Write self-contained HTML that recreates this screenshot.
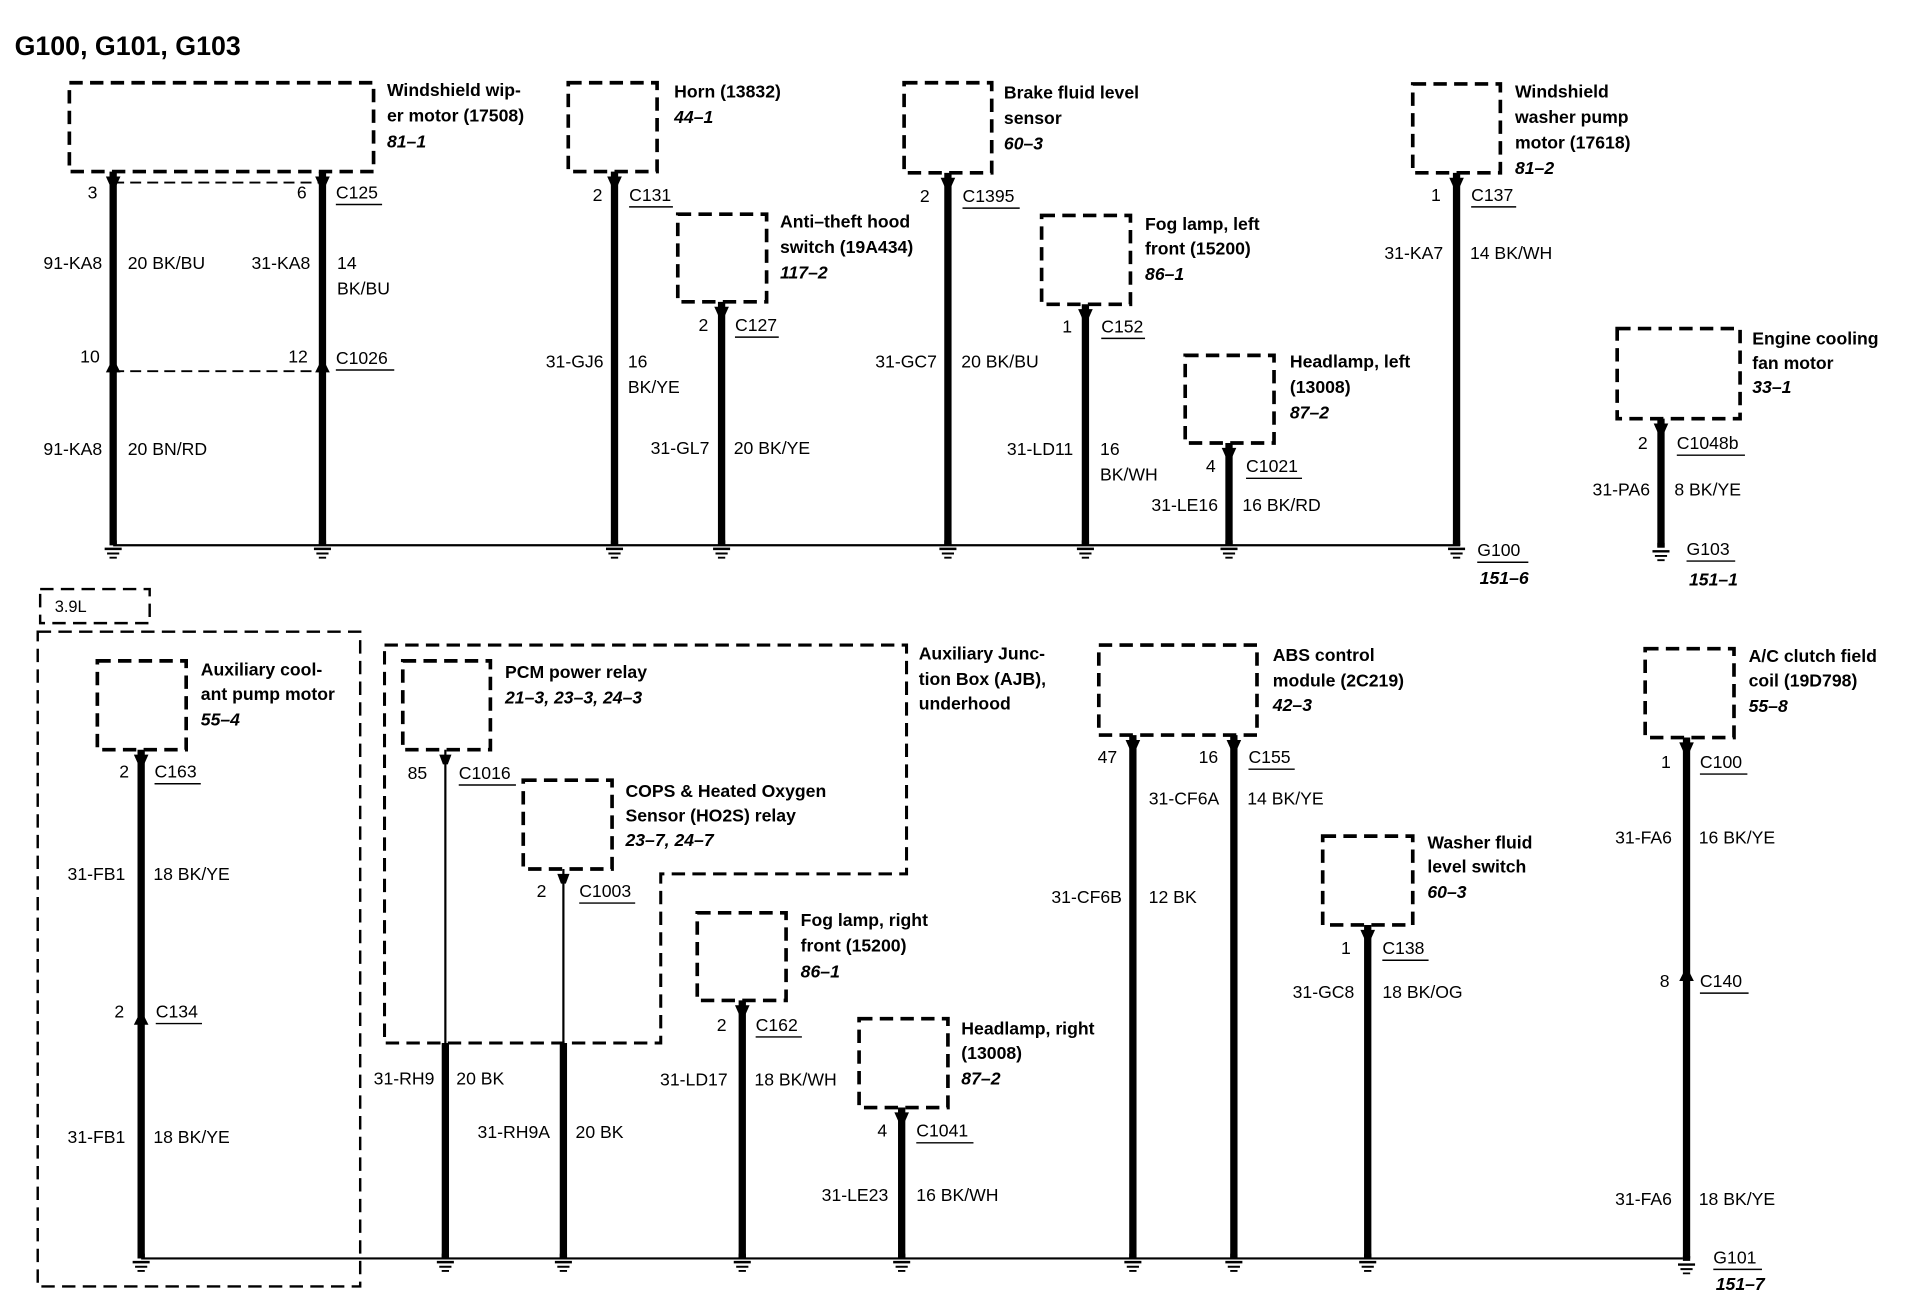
<!DOCTYPE html>
<html><head><meta charset="utf-8"><style>
html,body{margin:0;padding:0;background:#fff}
svg{display:block}
text{font-family:"Liberation Sans",Arial,sans-serif;font-size:14.5px;fill:#000}
.b{font-weight:bold}
.i{font-weight:bold;font-style:italic}
.r{text-anchor:end}
.d{fill:none;stroke:#000;stroke-width:3;stroke-dasharray:11 6}
.dt{fill:none;stroke:#000;stroke-width:1.6;stroke-dasharray:9 5}
.w{stroke:#000;stroke-width:6}
.t{stroke:#000;stroke-width:1.8}
.g{stroke:#000;stroke-width:1.8}
.u{stroke:#000;stroke-width:1.2}
</style></head><body>
<svg width="1908" height="1312" viewBox="0 0 1568 1078" preserveAspectRatio="none" xmlns="http://www.w3.org/2000/svg">
<text x="12" y="45" class="b" style="font-size:22px">G100, G101, G103</text>

<line class="g" x1="93" y1="448" x2="1200" y2="448"/>

<rect class="d" x="57" y="68" width="250" height="73"/>
<text x="318" y="79" class="b">Windshield wip-</text>
<text x="318" y="100" class="b">er motor (17508)</text>
<text x="318" y="121" class="i">81–1</text>
<line class="w" x1="93" y1="141" x2="93" y2="448"/>
<line class="w" x1="265" y1="141" x2="265" y2="448"/>
<path d="M87 145H99L95 154H91Z M259 145H271L267 154H263Z"/>
<path d="M87 306H99L95 298H91Z M259 306H271L267 298H263Z"/>
<line x1="93" y1="150" x2="265" y2="150" class="dt"/>
<line x1="93" y1="305" x2="265" y2="305" class="dt"/>
<text x="72" y="163">3</text>
<text x="244" y="163">6</text>
<text x="276" y="163">C125</text><line class="u" x1="276" y1="168" x2="314" y2="168"/>
<text x="84" y="221" class="r">91-KA8</text>
<text x="105" y="221">20 BK/BU</text>
<text x="255" y="221" class="r">31-KA8</text>
<text x="277" y="221">14</text>
<text x="277" y="242">BK/BU</text>
<text x="82" y="298" class="r">10</text>
<text x="253" y="298" class="r">12</text>
<text x="276" y="299">C1026</text><line class="u" x1="276" y1="304" x2="324" y2="304"/>
<text x="84" y="374" class="r">91-KA8</text>
<text x="105" y="374">20 BN/RD</text>

<rect class="d" x="467" y="68" width="73" height="73"/>
<text x="554" y="80" class="b">Horn (13832)</text>
<text x="554" y="101" class="i">44–1</text>
<line class="w" x1="505" y1="141" x2="505" y2="448"/>
<path d="M499 145H511L507 154H503Z"/>
<text x="487" y="165">2</text>
<text x="517" y="165">C131</text><line class="u" x1="517" y1="170" x2="553" y2="170"/>
<text x="496" y="302" class="r">31-GJ6</text>
<text x="516" y="302">16</text>
<text x="516" y="323">BK/YE</text>

<rect class="d" x="557" y="176" width="73" height="72"/>
<text x="641" y="187" class="b">Anti–theft hood</text>
<text x="641" y="208" class="b">switch (19A434)</text>
<text x="641" y="229" class="i">117–2</text>
<line class="w" x1="593" y1="248" x2="593" y2="448"/>
<path d="M587 252H599L595 261H591Z"/>
<text x="574" y="272">2</text>
<text x="604" y="272">C127</text><line class="u" x1="604" y1="277" x2="640" y2="277"/>
<text x="583" y="373" class="r">31-GL7</text>
<text x="603" y="373">20 BK/YE</text>

<rect class="d" x="743" y="68" width="72" height="74"/>
<text x="825" y="81" class="b">Brake fluid level</text>
<text x="825" y="102" class="b">sensor</text>
<text x="825" y="123" class="i">60–3</text>
<line class="w" x1="779" y1="142" x2="779" y2="448"/>
<path d="M773 146H785L781 155H777Z"/>
<text x="756" y="166">2</text>
<text x="791" y="166">C1395</text><line class="u" x1="791" y1="171" x2="838" y2="171"/>
<text x="770" y="302" class="r">31-GC7</text>
<text x="790" y="302">20 BK/BU</text>

<rect class="d" x="856" y="177" width="73" height="73"/>
<text x="941" y="189" class="b">Fog lamp, left</text>
<text x="941" y="209" class="b">front (15200)</text>
<text x="941" y="230" class="i">86–1</text>
<line class="w" x1="892" y1="250" x2="892" y2="448"/>
<path d="M886 254H898L894 263H890Z"/>
<text x="873" y="273">1</text>
<text x="905" y="273">C152</text><line class="u" x1="905" y1="278" x2="941" y2="278"/>
<text x="882" y="374" class="r">31-LD11</text>
<text x="904" y="374">16</text>
<text x="904" y="395">BK/WH</text>

<rect class="d" x="974" y="292" width="73" height="72"/>
<text x="1060" y="302" class="b">Headlamp, left</text>
<text x="1060" y="323" class="b">(13008)</text>
<text x="1060" y="344" class="i">87–2</text>
<line class="w" x1="1010" y1="364" x2="1010" y2="448"/>
<path d="M1004 368H1016L1012 377H1008Z"/>
<text x="991" y="388">4</text>
<text x="1024" y="388">C1021</text><line class="u" x1="1024" y1="393" x2="1070" y2="393"/>
<text x="1001" y="420" class="r">31-LE16</text>
<text x="1021" y="420">16 BK/RD</text>

<rect class="d" x="1161" y="69" width="72" height="73"/>
<text x="1245" y="80" class="b">Windshield</text>
<text x="1245" y="101" class="b">washer pump</text>
<text x="1245" y="122" class="b">motor (17618)</text>
<text x="1245" y="143" class="i">81–2</text>
<line class="w" x1="1197" y1="142" x2="1197" y2="448"/>
<path d="M1191 146H1203L1199 155H1195Z"/>
<text x="1176" y="165">1</text>
<text x="1209" y="165">C137</text><line class="u" x1="1209" y1="170" x2="1246" y2="170"/>
<text x="1186" y="213" class="r">31-KA7</text>
<text x="1208" y="213">14 BK/WH</text>
<text x="1214" y="457">G100</text><line class="u" x1="1214" y1="462" x2="1256" y2="462"/>
<text x="1216" y="480" class="i">151–6</text>

<rect class="d" x="1329" y="270" width="101" height="74"/>
<text x="1440" y="283" class="b">Engine cooling</text>
<text x="1440" y="303" class="b">fan motor</text>
<text x="1440" y="323" class="i">33–1</text>
<line class="w" x1="1365" y1="344" x2="1365" y2="450"/>
<path d="M1359 348H1371L1367 357H1363Z"/>
<text x="1346" y="369">2</text>
<text x="1378" y="369">C1048b</text><line class="u" x1="1378" y1="374" x2="1434" y2="374"/>
<text x="1356" y="407" class="r">31-PA6</text>
<text x="1376" y="407">8 BK/YE</text>
<text x="1386" y="456">G103</text><line class="u" x1="1386" y1="461" x2="1426" y2="461"/>
<text x="1388" y="481" class="i">151–1</text>

<g id="gt">
<path d="M90 444h6v4h-6Z M86 450h14v2h-14Z M88 454h10v1.6h-10Z M90 457.5h6v1.5h-6Z"/>
</g>
<use href="#gt" x="172"/><use href="#gt" x="412"/><use href="#gt" x="500"/><use href="#gt" x="686"/><use href="#gt" x="799"/><use href="#gt" x="917"/><use href="#gt" x="1104"/><use href="#gt" x="1272" y="2"/>

<rect class="d" x="33" y="484" width="90" height="28" style="stroke-width:2"/>
<text x="45" y="503" style="font-size:13.5px">3.9L</text>
<rect class="d" x="31" y="519" width="265" height="538" style="stroke-width:2"/>
<line class="g" x1="116" y1="1034" x2="1383" y2="1034"/>

<rect class="d" x="80" y="543" width="73" height="73"/>
<text x="165" y="555" class="b">Auxiliary cool-</text>
<text x="165" y="575" class="b">ant pump motor</text>
<text x="165" y="596" class="i">55–4</text>
<line class="w" x1="116" y1="616" x2="116" y2="1034"/>
<path d="M110 620H122L118 629H114Z M110 842H122L118 834H114Z"/>
<text x="98" y="639">2</text>
<text x="127" y="639">C163</text><line class="u" x1="127" y1="644" x2="165" y2="644"/>
<text x="103" y="723" class="r">31-FB1</text>
<text x="126" y="723">18 BK/YE</text>
<text x="94" y="836">2</text>
<text x="128" y="836">C134</text><line class="u" x1="128" y1="841" x2="166" y2="841"/>
<text x="103" y="939" class="r">31-FB1</text>
<text x="126" y="939">18 BK/YE</text>

<path class="d" d="M316 530H745V718H543V857H316Z" style="stroke-width:2.5"/>
<text x="755" y="542" class="b">Auxiliary Junc-</text>
<text x="755" y="563" class="b">tion Box (AJB),</text>
<text x="755" y="583" class="b">underhood</text>

<rect class="d" x="331" y="543" width="72" height="73"/>
<text x="415" y="557" class="b">PCM power relay</text>
<text x="415" y="578" class="i">21–3, 23–3, 24–3</text>
<line class="t" x1="366" y1="616" x2="366" y2="857"/>
<line class="w" x1="366" y1="857" x2="366" y2="1034"/>
<path d="M361 620H371L368 628H364Z"/>
<text x="335" y="640">85</text>
<text x="377" y="640">C1016</text><line class="u" x1="377" y1="645" x2="424" y2="645"/>
<text x="357" y="891" class="r">31-RH9</text>
<text x="375" y="891">20 BK</text>

<rect class="d" x="430" y="641" width="73" height="73"/>
<text x="514" y="655" class="b">COPS &amp; Heated Oxygen</text>
<text x="514" y="675" class="b">Sensor (HO2S) relay</text>
<text x="514" y="695" class="i">23–7, 24–7</text>
<line class="t" x1="463" y1="714" x2="463" y2="857"/>
<line class="w" x1="463" y1="857" x2="463" y2="1034"/>
<path d="M458 718H468L465 726H461Z"/>
<text x="441" y="737">2</text>
<text x="476" y="737">C1003</text><line class="u" x1="476" y1="742" x2="522" y2="742"/>
<text x="452" y="935" class="r">31-RH9A</text>
<text x="473" y="935">20 BK</text>

<rect class="d" x="573" y="750" width="73" height="72"/>
<text x="658" y="761" class="b">Fog lamp, right</text>
<text x="658" y="782" class="b">front (15200)</text>
<text x="658" y="803" class="i">86–1</text>
<line class="w" x1="610" y1="822" x2="610" y2="1034"/>
<path d="M604 826H616L612 835H608Z"/>
<text x="589" y="847">2</text>
<text x="621" y="847">C162</text><line class="u" x1="621" y1="852" x2="659" y2="852"/>
<text x="598" y="892" class="r">31-LD17</text>
<text x="620" y="892">18 BK/WH</text>

<rect class="d" x="706" y="837" width="73" height="73"/>
<text x="790" y="850" class="b">Headlamp, right</text>
<text x="790" y="870" class="b">(13008)</text>
<text x="790" y="891" class="i">87–2</text>
<line class="w" x1="741" y1="910" x2="741" y2="1034"/>
<path d="M735 914H747L743 923H739Z"/>
<text x="721" y="934">4</text>
<text x="753" y="934">C1041</text><line class="u" x1="753" y1="939" x2="800" y2="939"/>
<text x="730" y="987" class="r">31-LE23</text>
<text x="753" y="987">16 BK/WH</text>

<rect class="d" x="903" y="530" width="130" height="74"/>
<text x="1046" y="543" class="b">ABS control</text>
<text x="1046" y="564" class="b">module (2C219)</text>
<text x="1046" y="584" class="i">42–3</text>
<line class="w" x1="931" y1="604" x2="931" y2="1034"/>
<line class="w" x1="1014" y1="604" x2="1014" y2="1034"/>
<path d="M925 608H937L933 617H929Z M1008 608H1020L1016 617H1012Z"/>
<text x="902" y="627">47</text>
<text x="985" y="627">16</text>
<text x="1026" y="627">C155</text><line class="u" x1="1026" y1="632" x2="1064" y2="632"/>
<text x="1002" y="661" class="r">31-CF6A</text>
<text x="1025" y="661">14 BK/YE</text>
<text x="922" y="742" class="r">31-CF6B</text>
<text x="944" y="742">12 BK</text>

<rect class="d" x="1087" y="687" width="74" height="73"/>
<text x="1173" y="697" class="b">Washer fluid</text>
<text x="1173" y="717" class="b">level switch</text>
<text x="1173" y="738" class="i">60–3</text>
<line class="w" x1="1124" y1="760" x2="1124" y2="1034"/>
<path d="M1118 764H1130L1126 773H1122Z"/>
<text x="1102" y="784">1</text>
<text x="1136" y="784">C138</text><line class="u" x1="1136" y1="789" x2="1174" y2="789"/>
<text x="1113" y="820" class="r">31-GC8</text>
<text x="1136" y="820">18 BK/OG</text>

<rect class="d" x="1352" y="533" width="73" height="73"/>
<text x="1437" y="544" class="b">A/C clutch field</text>
<text x="1437" y="564" class="b">coil (19D798)</text>
<text x="1437" y="585" class="i">55–8</text>
<line class="w" x1="1386" y1="606" x2="1386" y2="1034"/>
<path d="M1380 610H1392L1388 619H1384Z M1380 806H1392L1388 798H1384Z"/>
<text x="1365" y="631">1</text>
<text x="1397" y="631">C100</text><line class="u" x1="1397" y1="636" x2="1436" y2="636"/>
<text x="1374" y="693" class="r">31-FA6</text>
<text x="1396" y="693">16 BK/YE</text>
<text x="1364" y="811">8</text>
<text x="1397" y="811">C140</text><line class="u" x1="1397" y1="816" x2="1437" y2="816"/>
<text x="1374" y="990" class="r">31-FA6</text>
<text x="1396" y="990">18 BK/YE</text>
<text x="1408" y="1038">G101</text><line class="u" x1="1408" y1="1043" x2="1448" y2="1043"/>
<text x="1410" y="1060" class="i">151–7</text>

<g id="gb"><path d="M113 1030h6v4h-6Z M109 1036h14v2h-14Z M111 1040h10v1.6h-10Z M113 1043.5h6v1.5h-6Z"/></g>
<use href="#gb" x="250"/><use href="#gb" x="347"/><use href="#gb" x="494"/><use href="#gb" x="625"/><use href="#gb" x="815"/><use href="#gb" x="898"/><use href="#gb" x="1008"/><use href="#gb" x="1270" y="2"/>
</svg>
</body></html>
